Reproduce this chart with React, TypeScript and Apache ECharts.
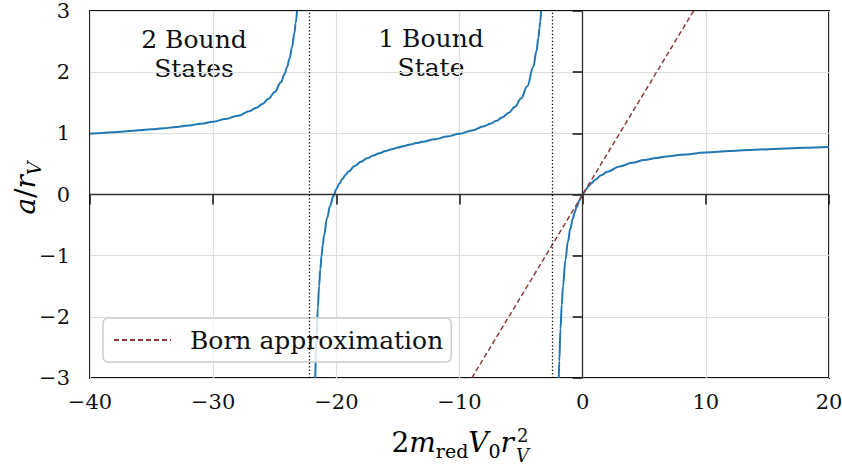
import React, { useEffect, useRef } from 'react';
import * as echarts from 'echarts';

// Scattering length a/r_V of a square well, one branch per number of bound states.
// Branch with two bound states (left of the second threshold)
const twoBoundX = [-40, -39, -38, -37, -36, -35, -34, -33, -32, -31, -30, -29, -28, -27, -26.5, -26, -25.5, -25, -24.5, -24.2, -24, -23.8, -23.6, -23.4, -23.3, -23.193];
const twoBoundA = [0.993, 1.006, 1.019, 1.033, 1.049, 1.065, 1.083, 1.104, 1.128, 1.156, 1.19, 1.233, 1.289, 1.366, 1.418, 1.481, 1.565, 1.676, 1.836, 1.968, 2.082, 2.222, 2.404, 2.645, 2.8, 3.0];

// Branch with one bound state
const oneBoundX = [-21.71, -21.6, -21.5, -21.4, -21.3, -21.2, -21.1, -21.0, -20.75, -20.5, -20.25, -20, -19.75, -19.5, -19.25, -19, -18.5, -18, -17.5, -17, -16.5, -16, -15.5, -15, -14.5, -14, -13.5, -13, -12, -11, -10, -9, -8, -7.5, -7, -6.5, -6, -5.5, -5, -4.5, -4, -3.75, -3.6, -3.5, -3.45, -3.374];
const oneBoundA = [-3.0, -2.316, -1.847, -1.496, -1.222, -1.002, -0.822, -0.672, -0.385, -0.182, -0.03, 0.087, 0.181, 0.259, 0.323, 0.378, 0.467, 0.536, 0.591, 0.637, 0.676, 0.711, 0.741, 0.768, 0.793, 0.817, 0.84, 0.861, 0.903, 0.947, 0.993, 1.048, 1.115, 1.156, 1.205, 1.264, 1.338, 1.436, 1.57, 1.768, 2.093, 2.347, 2.556, 2.727, 2.826, 3.0];

// No bound state: shallow attraction and repulsion
const noBoundX = [-1.94, -1.9, -1.8, -1.7, -1.6, -1.4, -1.2, -1.0, -0.8, -0.65, -0.5, -0.25, -0.1, 0, 0.1, 0.25, 0.5, 0.75, 1, 1.5, 2, 3, 4, 5, 6, 7, 8, 10, 12, 14, 16, 18, 20];
const noBoundA = [-3.0, -2.724, -2.195, -1.804, -1.503, -1.069, -0.773, -0.557, -0.394, -0.293, -0.208, -0.093, -0.035, 0, 0.032, 0.076, 0.139, 0.192, 0.238, 0.313, 0.372, 0.458, 0.518, 0.563, 0.598, 0.626, 0.649, 0.685, 0.712, 0.733, 0.75, 0.764, 0.776];

// Born approximation
const bornX = [-9, 9];
const bornA = [-3, 3];

// Thresholds where a new bound state appears
const thresholds = [-22.207, -2.467];

const xRange = [-40, 20];
const yRange = [-3, 3];

const zip = (xs: number[], ys: number[]) => xs.map((x, i) => [x, ys[i]]);
const minusFmt = (v: number) => (v < 0 ? '\u2212' + Math.abs(v) : String(v));

const SERIF = 'DejaVu Serif';

export default function App() {
  const ref = useRef<HTMLDivElement>(null);

  useEffect(() => {
    const chart = echarts.init(ref.current!, null, { renderer: 'svg' });
    const curve = { color: '#1f77b4', width: 2 };
    const tickStyle = { color: '#111', width: 1.5 };
    const gridLine = { color: '#dddddd', width: 1.2 };

    const richBase = {
      n: { fontFamily: SERIF, fontSize: 28, lineHeight: 36, verticalAlign: 'middle', color: '#111' },
      i: { fontFamily: SERIF, fontSize: 28, lineHeight: 36, verticalAlign: 'middle', fontStyle: 'italic', color: '#111' },
      s: { fontFamily: SERIF, fontSize: 19, lineHeight: 19, verticalAlign: 'bottom', color: '#111' },
      si: { fontFamily: SERIF, fontSize: 19, lineHeight: 19, verticalAlign: 'bottom', fontStyle: 'italic', color: '#111' },
    };

    const note = (text: string, x: number, y: number) => ({
      type: 'text',
      x,
      y,
      style: {
        text,
        font: `25px "${SERIF}"`,
        lineHeight: 29,
        fill: '#111',
        align: 'center',
        verticalAlign: 'middle',
      },
    });

    chart.setOption({
      animation: false,
      backgroundColor: '#ffffff',
      grid: {
        left: 90,
        right: 13,
        top: 11,
        bottom: 88,
        outerBoundsMode: 'none',
        containLabel: false,
        show: true,
        borderColor: '#111',
        borderWidth: 2,
        backgroundColor: 'transparent',
      },
      xAxis: {
        type: 'value',
        min: xRange[0],
        max: xRange[1],
        interval: 10,
        axisLine: { show: false },
        axisTick: { show: true, length: 10, lineStyle: tickStyle },
        axisLabel: { margin: 13, fontFamily: SERIF, fontSize: 21, color: '#111', formatter: minusFmt },
        splitLine: { show: true, lineStyle: gridLine },
      },
      yAxis: {
        type: 'value',
        min: yRange[0],
        max: yRange[1],
        interval: 1,
        axisLine: { show: false },
        axisTick: { show: true, length: 10, lineStyle: tickStyle },
        axisLabel: { margin: 20, fontFamily: SERIF, fontSize: 21, color: '#111', formatter: minusFmt },
        splitLine: { show: true, lineStyle: gridLine },
      },
      legend: {
        data: ['Born approximation'],
        left: 103,
        top: 318,
        padding: [7, 8, 7, 10],
        itemWidth: 57,
        itemHeight: 12,
        itemStyle: { opacity: 0 },
        backgroundColor: 'rgba(255,255,255,0.8)',
        borderColor: '#cccccc',
        borderWidth: 1.5,
        borderRadius: 5,
        textStyle: { fontFamily: SERIF, fontSize: 25, color: '#111', lineHeight: 30, padding: [0, 0, 0, 14] },
      },
      series: [
        {
          type: 'line',
          name: 'zero',
          silent: true,
          data: [],
          markLine: {
            silent: true,
            symbol: 'none',
            label: { show: false },
            lineStyle: { color: '#333', width: 1.3, type: 'solid' },
            data: [{ xAxis: 0 }, { yAxis: 0 }],
          },
          z: 1,
        },
        {
          type: 'line',
          name: 'thresholds',
          silent: true,
          data: [],
          markLine: {
            silent: true,
            symbol: 'none',
            label: { show: false },
            lineStyle: { color: '#000', width: 1.3, type: [1.3, 2.2] },
            data: thresholds.map((t) => ({ xAxis: t })),
          },
          z: 2,
        },
        ...[zip(twoBoundX, twoBoundA), zip(oneBoundX, oneBoundA), zip(noBoundX, noBoundA)].map((d) => ({
          type: 'line',
          name: 'a',
          data: d,
          showSymbol: false,
          symbol: 'none',
          smooth: 0.4,
          smoothMonotone: 'x',
          clip: true,
          lineStyle: curve,
          z: 3,
        })),
        {
          type: 'line',
          name: 'Born approximation',
          data: zip(bornX, bornA),
          showSymbol: false,
          symbol: 'none',
          clip: true,
          itemStyle: { color: '#8c3b3b' },
          lineStyle: { color: '#8c3b3b', width: 1.5, type: [5, 3] },
          z: 4,
        },
      ],
      graphic: [
        note('2 Bound\nStates', 194, 54),
        note('1 Bound\nState', 431, 53),
        {
          type: 'text',
          x: 25,
          y: 188,
          rotation: Math.PI / 2,
          style: {
            text: '{i|a}{n|/}{i|r}{si|V}',
            rich: richBase,
            align: 'center',
            verticalAlign: 'middle',
          },
        },
        {
          type: 'text',
          x: 514,
          y: 442,
          style: {
            text: '{n|2}{i|m}{s|red}{i|V}{s|0}{i|r}',
            rich: richBase,
            align: 'right',
            verticalAlign: 'middle',
          },
        },
        {
          type: 'text',
          x: 517,
          y: 435,
          style: { text: '2', fontFamily: SERIF, fontSize: 18, lineHeight: 18, fill: '#111', align: 'left', verticalAlign: 'middle' },
        },
        {
          type: 'text',
          x: 516,
          y: 455,
          style: { text: 'V', fontFamily: SERIF, fontStyle: 'italic', fontSize: 18, lineHeight: 18, fill: '#111', align: 'left', verticalAlign: 'middle' },
        },
      ],
    });

    return () => chart.dispose();
  }, []);

  return <div ref={ref} style={{ width: 842, height: 466, position: 'absolute', left: 0, top: 0 }} />;
}
